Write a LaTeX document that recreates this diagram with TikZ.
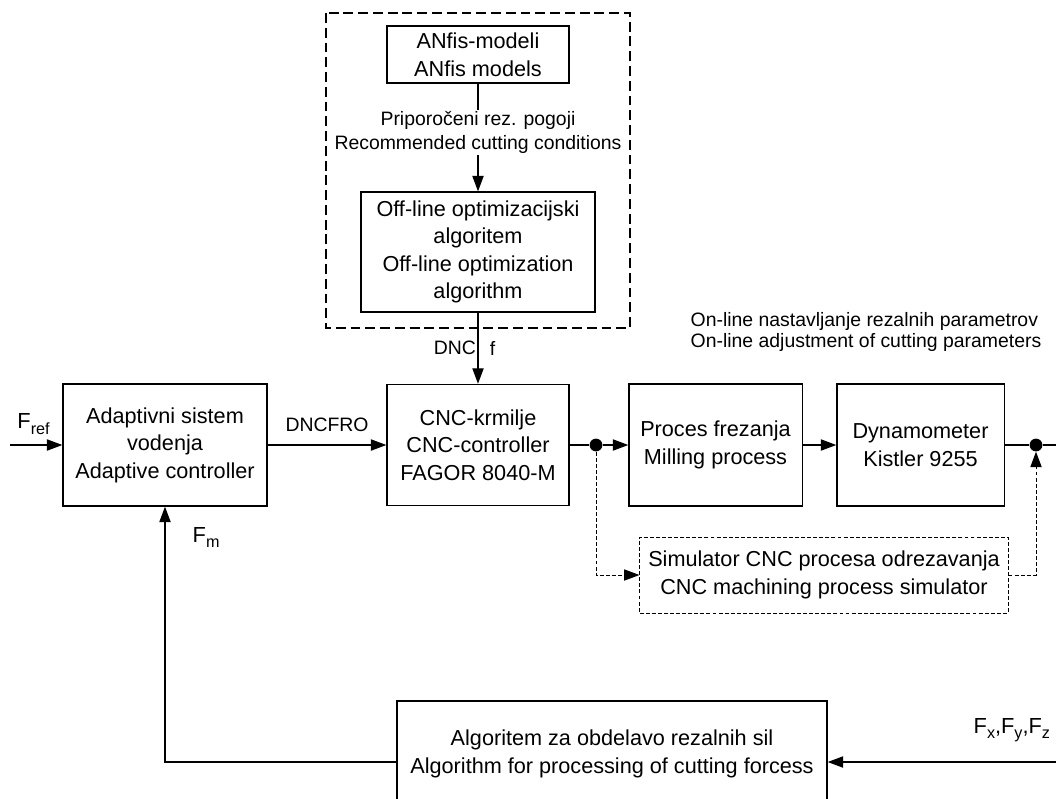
\documentclass[tikz,border=0pt]{standalone}
\usepackage{fontspec}
\setmainfont{Liberation Sans}
\usetikzlibrary{positioning, arrows.meta}

% force symbol with a lowered index
\newcommand{\forcesym}[1]{F\raisebox{-4pt}{\fontsize{11.5}{11.5}\selectfont #1}}

\begin{document}
\begin{tikzpicture}[x=0.025cm, y=-0.025cm,
  block/.style={draw, line width=0.9pt, align=center, inner sep=2pt,
    font=\fontsize{15.4}{19.6}\selectfont},
  simblock/.style={block, line width=0.7pt, dash pattern=on 2.8pt off 1.5pt},
  lbl/.style={font=\fontsize{13.8}{15.4}\selectfont, align=center, inner sep=1pt},
  flbl/.style={font=\fontsize{15.5}{17}\selectfont, inner sep=1pt},
  junction/.style={circle, fill, inner sep=0pt, minimum size=0.32cm},
  wire/.style={line width=0.9pt},
  sig/.style={wire, -{Triangle[length=11pt, width=8pt]}},
  simsig/.style={sig, line width=0.7pt, dash pattern=on 2.8pt off 1.5pt},
  frame/.style={line width=0.9pt, dash pattern=on 7pt off 3.5pt}]

\useasboundingbox (0,0) rectangle (1056,798);

% --- off-line part (dashed frame) ---
\node[block, minimum width=4.55cm, minimum height=1.43cm] (anfis) at (478,54.5)
  {ANfis-modeli\\ANfis models};
\node[block, minimum width=5.85cm, minimum height=3cm] (offline) at (478,252)
  {Off-line optimizacijski\\algoritem\\Off-line optimization\\algorithm};
\draw[frame] (326,13) rectangle (630,328);

% --- main loop ---
\node[block, minimum width=5.1cm, minimum height=3.05cm] (adapt) at (165,445)
  {Adaptivni sistem\\vodenja\\Adaptive controller};
\node[block, minimum width=4.55cm, minimum height=3.03cm] (cnc) at (478,445)
  {CNC-krmilje\\CNC-controller\\FAGOR 8040-M};
\node[block, minimum width=4.33cm, minimum height=3.05cm] (proces) at (715.5,445)
  {Proces frezanja\\Milling process};
\node[block, minimum width=4.18cm, minimum height=3.05cm] (dyn) at (920.5,445)
  {Dynamometer\\Kistler 9255};
\node[simblock, minimum width=9.2cm, minimum height=1.9cm] (sim) at (824,575)
  {Simulator CNC procesa odrezavanja\\CNC machining process simulator};
\node[block, minimum width=10.75cm, minimum height=2.65cm] (algo) at (612,754)
  {Algoritem za obdelavo rezalnih sil\\Algorithm for processing of cutting forcess};

\node[junction] (j1) at (596,445) {};
\node[junction] (j2) at (1036,445) {};
\coordinate (in) at (10,445);
\coordinate (out) at (1080,445);

% --- labels ---
\node[lbl, align=left] (online) at (866,332)
  {On-line nastavljanje rezalnih parametrov\\On-line adjustment of cutting parameters};
\node[flbl, anchor=base west] (fm) at (191,542) {\forcesym{m}};
\node[flbl, anchor=base west] (fxyz) at (972,733) {\forcesym{x},\forcesym{y},\forcesym{z}};

% --- connectors ---
\draw[sig] (anfis) -- node[lbl, fill=white, pos=0.45, font=\fontsize{13.8}{17}\selectfont]
  {Priporočeni rez. pogoji\\Recommended cutting conditions} (offline);
\draw[sig] (offline) -- node[lbl, left] {DNC} node[lbl, right=7pt] {f} (cnc);
\draw[sig] (in) -- node[flbl, above=6pt, pos=0.45] {\forcesym{ref}} (adapt);
\draw[sig] (adapt) -- node[lbl, above=8pt] {DNCFRO} (cnc);
\draw[wire] (cnc) -- (j1);
\draw[sig] (j1) -- (proces);
\draw[sig] (proces) -- (dyn);
\draw[wire] (dyn) -- (j2);
\draw[sig] (j2) -- (out) |- ([yshift=-0.2cm]algo.east);
\draw[sig] ([yshift=-0.2cm]algo.west) -| (adapt);

% --- simulator branch (dashed) ---
\draw[simsig] (j1) |- (sim);
\draw[simsig] (sim) -| (j2);
\end{tikzpicture}
\end{document}
